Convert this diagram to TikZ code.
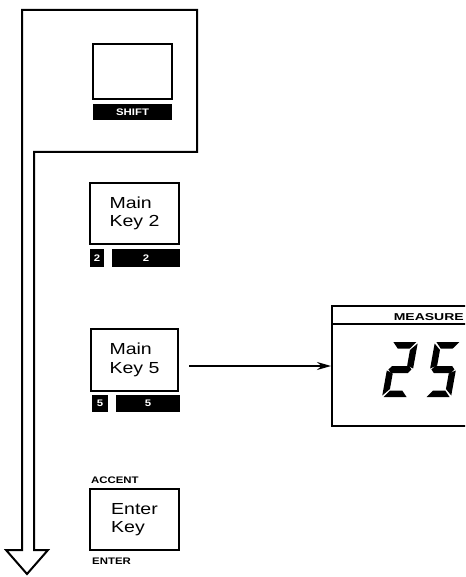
\documentclass[tikz,border=0pt]{standalone}
\usepackage{fontspec}
\setmainfont{Liberation Sans}
\newfontfamily\keyfont[FakeStretch=1.22]{Liberation Sans}
\newfontfamily\labfont[FakeStretch=1.2]{Liberation Sans}
\newfontfamily\measfont[FakeStretch=1.4]{Liberation Sans}
\usetikzlibrary{arrows.meta}
\tikzset{
  keybox/.style={draw, line width=2pt, inner sep=0pt, align=left,
    font=\keyfont\fontsize{16}{18.5}\selectfont},
  blackbar/.style={fill=black, inner sep=0pt, text=white,
    font=\labfont\bfseries\fontsize{9.5}{9.5}\selectfont},
  smalllab/.style={inner sep=0pt, font=\labfont\bfseries\fontsize{9.5}{9.5}\selectfont},
  frame/.style={line width=2pt, line join=miter},
}
\newcommand{\segA}{\fill (1.5,55) -- (24.5,55) -- (19,48.5) -- (7,48.5) -- cycle;}
\newcommand{\segD}{\fill (1.5,0) -- (24.5,0) -- (19,6.5) -- (7,6.5) -- cycle;}
\newcommand{\segG}{\fill (1.5,27.5) -- (4.5,31) -- (21.5,31) -- (24.5,27.5) -- (21.5,24) -- (4.5,24) -- cycle;}
\newcommand{\segF}{\fill (0,53.5) -- (6.5,47) -- (6.5,31.5) -- (0,28.5) -- cycle;}
\newcommand{\segB}{\fill (26,53.5) -- (19.5,47) -- (19.5,31.5) -- (26,28.5) -- cycle;}
\newcommand{\segE}{\fill (0,1.5) -- (6.5,8) -- (6.5,23.5) -- (0,26.5) -- cycle;}
\newcommand{\segC}{\fill (26,1.5) -- (19.5,8) -- (19.5,23.5) -- (26,26.5) -- cycle;}
\begin{document}
\begin{tikzpicture}[x=1pt, y=-1pt]
\clip (0,0) rectangle (465,577);
\fill[white] (0,0) rectangle (465,577);

% big hollow arrow frame
\draw[frame] (34,152) -- (34,550) -- (48,550) -- (27,574) -- (6,550) -- (22,550)
  -- (22,10) -- (197,10) -- (197,152) -- cycle;

% SHIFT key
\node[keybox, minimum width=79, minimum height=55] (shift) at (132.5,71.5) {};
\node[blackbar, minimum width=79, minimum height=16] (shiftbar) at (132.5,112) {SHIFT};

% Main Key 2
\node[keybox, minimum width=89, minimum height=60] (key2) at (134.5,213.5) {Main\\Key 2};
\node[blackbar, minimum width=14, minimum height=18] (k2a) at (97,258) {2};
\node[blackbar, minimum width=68, minimum height=18] (k2b) at (146,258) {2};

% Main Key 5
\node[keybox, minimum width=87, minimum height=62] (key5) at (134.5,360) {Main\\Key 5};
\node[blackbar, minimum width=16, minimum height=17] (k5a) at (100,403.5) {5};
\node[blackbar, minimum width=64, minimum height=17] (k5b) at (148,403.5) {5};

% Enter key
\node[keybox, minimum width=89, minimum height=61] (enter) at (134.5,519.5) {Enter\\Key};
\node[smalllab, anchor=base west] (accent) at (91,483) {ACCENT};
\node[smalllab, anchor=base west] (enterlab) at (92,564) {ENTER};

% display
\node[draw, line width=2pt, minimum width=150, minimum height=120, anchor=north west, inner sep=0pt] (disp) at (331,305) {};
\draw[line width=1.4pt] ([yshift=-19pt]disp.north west) -- ([yshift=-19pt]disp.north east);
\node[inner sep=0pt, anchor=base east, font=\measfont\bfseries\fontsize{10}{10}\selectfont] (meas) at (464,320) {MEASURE};

% seven-segment "25"
\begin{scope}[shift={(382,397)}, x=1pt, y=1pt, xslant=0.18]
  \segA \segB \segG \segE \segD
\end{scope}
\begin{scope}[shift={(425,397)}, x=1pt, y=1pt, xslant=0.18]
  \segA \segF \segG \segC \segD
\end{scope}

% arrow from key 5 to display
\draw[line width=1.5pt, -{Stealth[length=14pt, width=8pt]}, shorten <=10pt]
  (key5.east |- disp.west) -- (disp.west);
\end{tikzpicture}
\end{document}
